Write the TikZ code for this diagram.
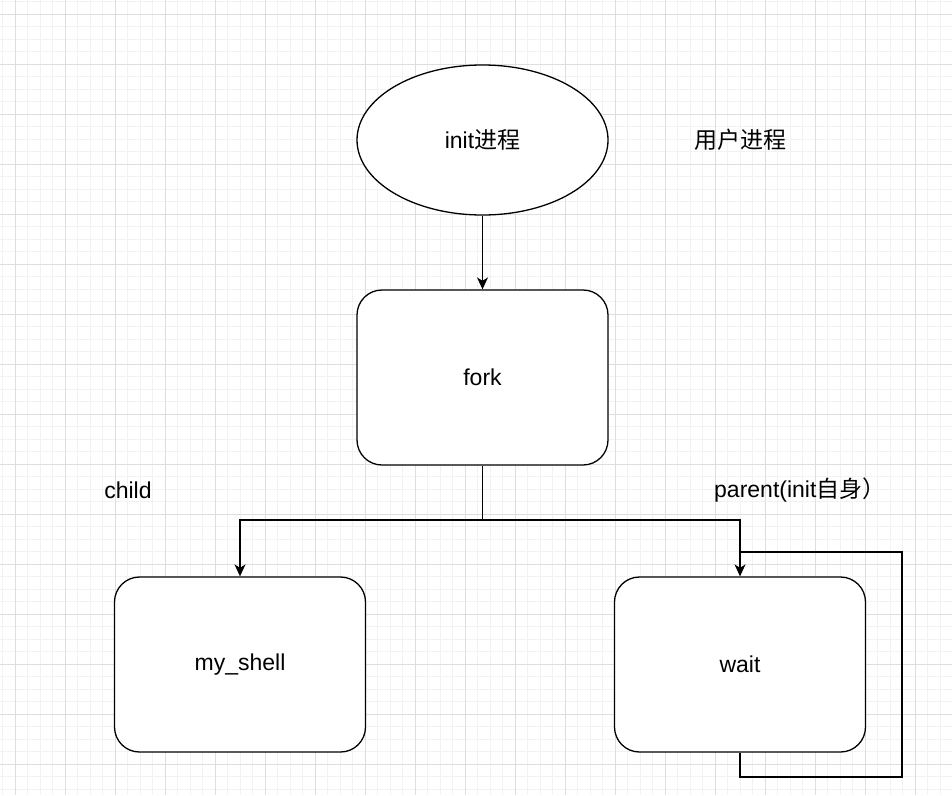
\documentclass[tikz,border=0pt]{standalone}
\usepackage{fontspec}
\setmainfont{Liberation Sans}
\newfontfamily\cjk{Noto Sans CJK SC}
\usetikzlibrary{shapes.geometric,arrows.meta}
\begin{document}
\begin{tikzpicture}[x=1pt,y=-1pt,
  minorgrid/.style={draw=black!5,line width=1pt},
  majorgrid/.style={draw=black!13,line width=1pt},
  shapebox/.style={draw,fill=white,line width=1.3pt,rounded corners=25pt,minimum width=251pt,minimum height=175pt,inner sep=0pt},
  ovalbox/.style={draw,fill=white,line width=1.3pt,ellipse,minimum width=251pt,minimum height=150pt,inner sep=0pt},
  lbl/.style={inner sep=0pt},
  wire/.style={line width=1.3pt},
  arrowwire/.style={line width=1.3pt,-{Stealth[length=12pt,width=11pt,inset=3.5pt]}},
  every node/.style={font=\fontsize{23}{27}\selectfont}]
\useasboundingbox (0,0) rectangle (952,795);
\fill[white] (0,0) rectangle (952,795);
\foreach \i in {0,...,76} {
  \draw[minorgrid] ({2.5+12.5*\i},0) -- ({2.5+12.5*\i},795);
}
\foreach \i in {0,...,64} {
  \draw[minorgrid] (0,{1.5+12.5*\i}) -- (952,{1.5+12.5*\i});
}
\foreach \i in {0,...,18} {
  \draw[majorgrid] ({15+50*\i},0) -- ({15+50*\i},795);
}
\foreach \i in {0,...,15} {
  \draw[majorgrid] (0,{14+50*\i}) -- (952,{14+50*\i});
}
\node[ovalbox] (init) at (482.5,140) {init{\cjk 进程}};
\node[lbl] (user) at (740,140) {\cjk 用户进程};
\node[shapebox] (fork) at (482.5,377.5) {fork};
\node[shapebox] (shell) at (240,664.5) {my\_shell\vphantom{k}};
\node[shapebox] (wait) at (740,664.5) {wait};
\node[lbl] (child) at (128,490) {child};
\node[lbl,anchor=west] (parent) at (714,490) {parent(init{\cjk 自身）}};
\coordinate (j) at (482.5,520);
\coordinate (lb) at (902,777);
\coordinate (lt) at (740,552);
\draw[arrowwire] (init) -- (fork);
\draw[wire] (fork.south) -- (j);
\draw[arrowwire] (j) -| (shell.north);
\draw[arrowwire] (j) -| (wait.north);
\draw[wire] (wait.south) |- (lb) |- (lt);
\end{tikzpicture}
\end{document}
